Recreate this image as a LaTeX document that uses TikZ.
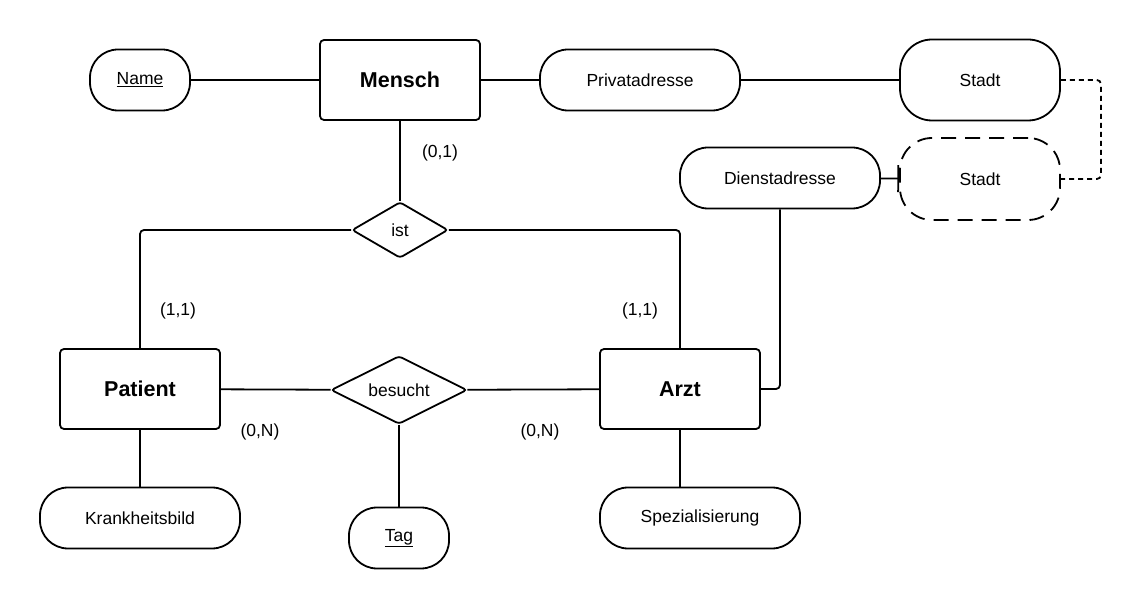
\documentclass[tikz,border=0pt]{standalone}
\usepackage{fontspec}
\setmainfont{Liberation Sans}
\usetikzlibrary{shapes.geometric,arrows.meta}

\begin{document}
\begin{tikzpicture}[x=1pt, y=-1pt, line width=1.8pt,
  entity/.style={draw, rounded corners=4, minimum width=160, minimum height=80, inner sep=0, font=\fontsize{21.5}{25}\selectfont\bfseries},
  attr/.style={draw, rounded corners=28, minimum width=#1, minimum height=61, inner sep=0},
  attr/.default=200,
  rel/.style={draw, diamond, aspect=2, rounded corners=3, inner sep=0},
  card/.style={inner sep=0}]
\fontsize{17.5}{21}\selectfont
\useasboundingbox (0,0) rectangle (1141,609);
% entities
\node[entity] (mensch) at (400,80) {Mensch};
\node[entity] (patient) at (140,389) {Patient};
\node[entity] (arzt) at (680,389) {Arzt};
% relationships
\node[rel, minimum width=96, minimum height=56] (ist) at (400,230) {ist};
\node[rel, minimum width=136, minimum height=68] (besucht) at (399,390) {besucht};
% attributes
\node[attr=100] (name) at (140,80) {\underline{Name}};
\node[attr] (privat) at (640,80) {Privatadresse};
\node[attr=160, minimum height=81, rounded corners=32] (stadtA) at (980,80) {Stadt};
\node[attr] (dienst) at (780,178) {Dienstadresse};
\node[attr=160, minimum height=82, rounded corners=32, dash pattern=on 15pt off 9pt] (stadtB) at (980,179) {Stadt};
\node[attr] (krank) at (140,518) {Krankheitsbild};
\node[attr=100] (tag) at (399,538) {\underline{Tag}};
\node[attr] (spez) at (700,518) {Spezialisierung};
% cardinalities
\node[card] (c01) at (440,153) {(0,1)};
\node[card] (c11a) at (178,311) {(1,1)};
\node[card] (c11b) at (640,311) {(1,1)};
\node[card] (c0na) at (260,432) {(0,N)};
\node[card] (c0nb) at (540,432) {(0,N)};
% lines
\draw (name) -- (mensch) (mensch) -- (privat) (privat) -- (stadtA);
\draw (mensch) -- (ist);
\draw[rounded corners=4] (ist.west) -| (patient.north);
\draw[rounded corners=4] (ist.east) -| (arzt.north);
\draw (patient) -- (besucht) (besucht) -- (arzt);
\draw (besucht) -- (tag);
\draw (patient) -- (krank);
\draw (arzt.south) -- (arzt.south |- spez.north);
\draw[rounded corners=4] (dienst.south) |- (arzt.east);
\draw[-{Bar[width=27pt]}] (dienst) -- (stadtB);
\draw[dash pattern=on 5pt off 4pt, rounded corners=4] (stadtA.east) -| ([xshift=40]stadtB.east) -- (stadtB.east);
\end{tikzpicture}
\end{document}
